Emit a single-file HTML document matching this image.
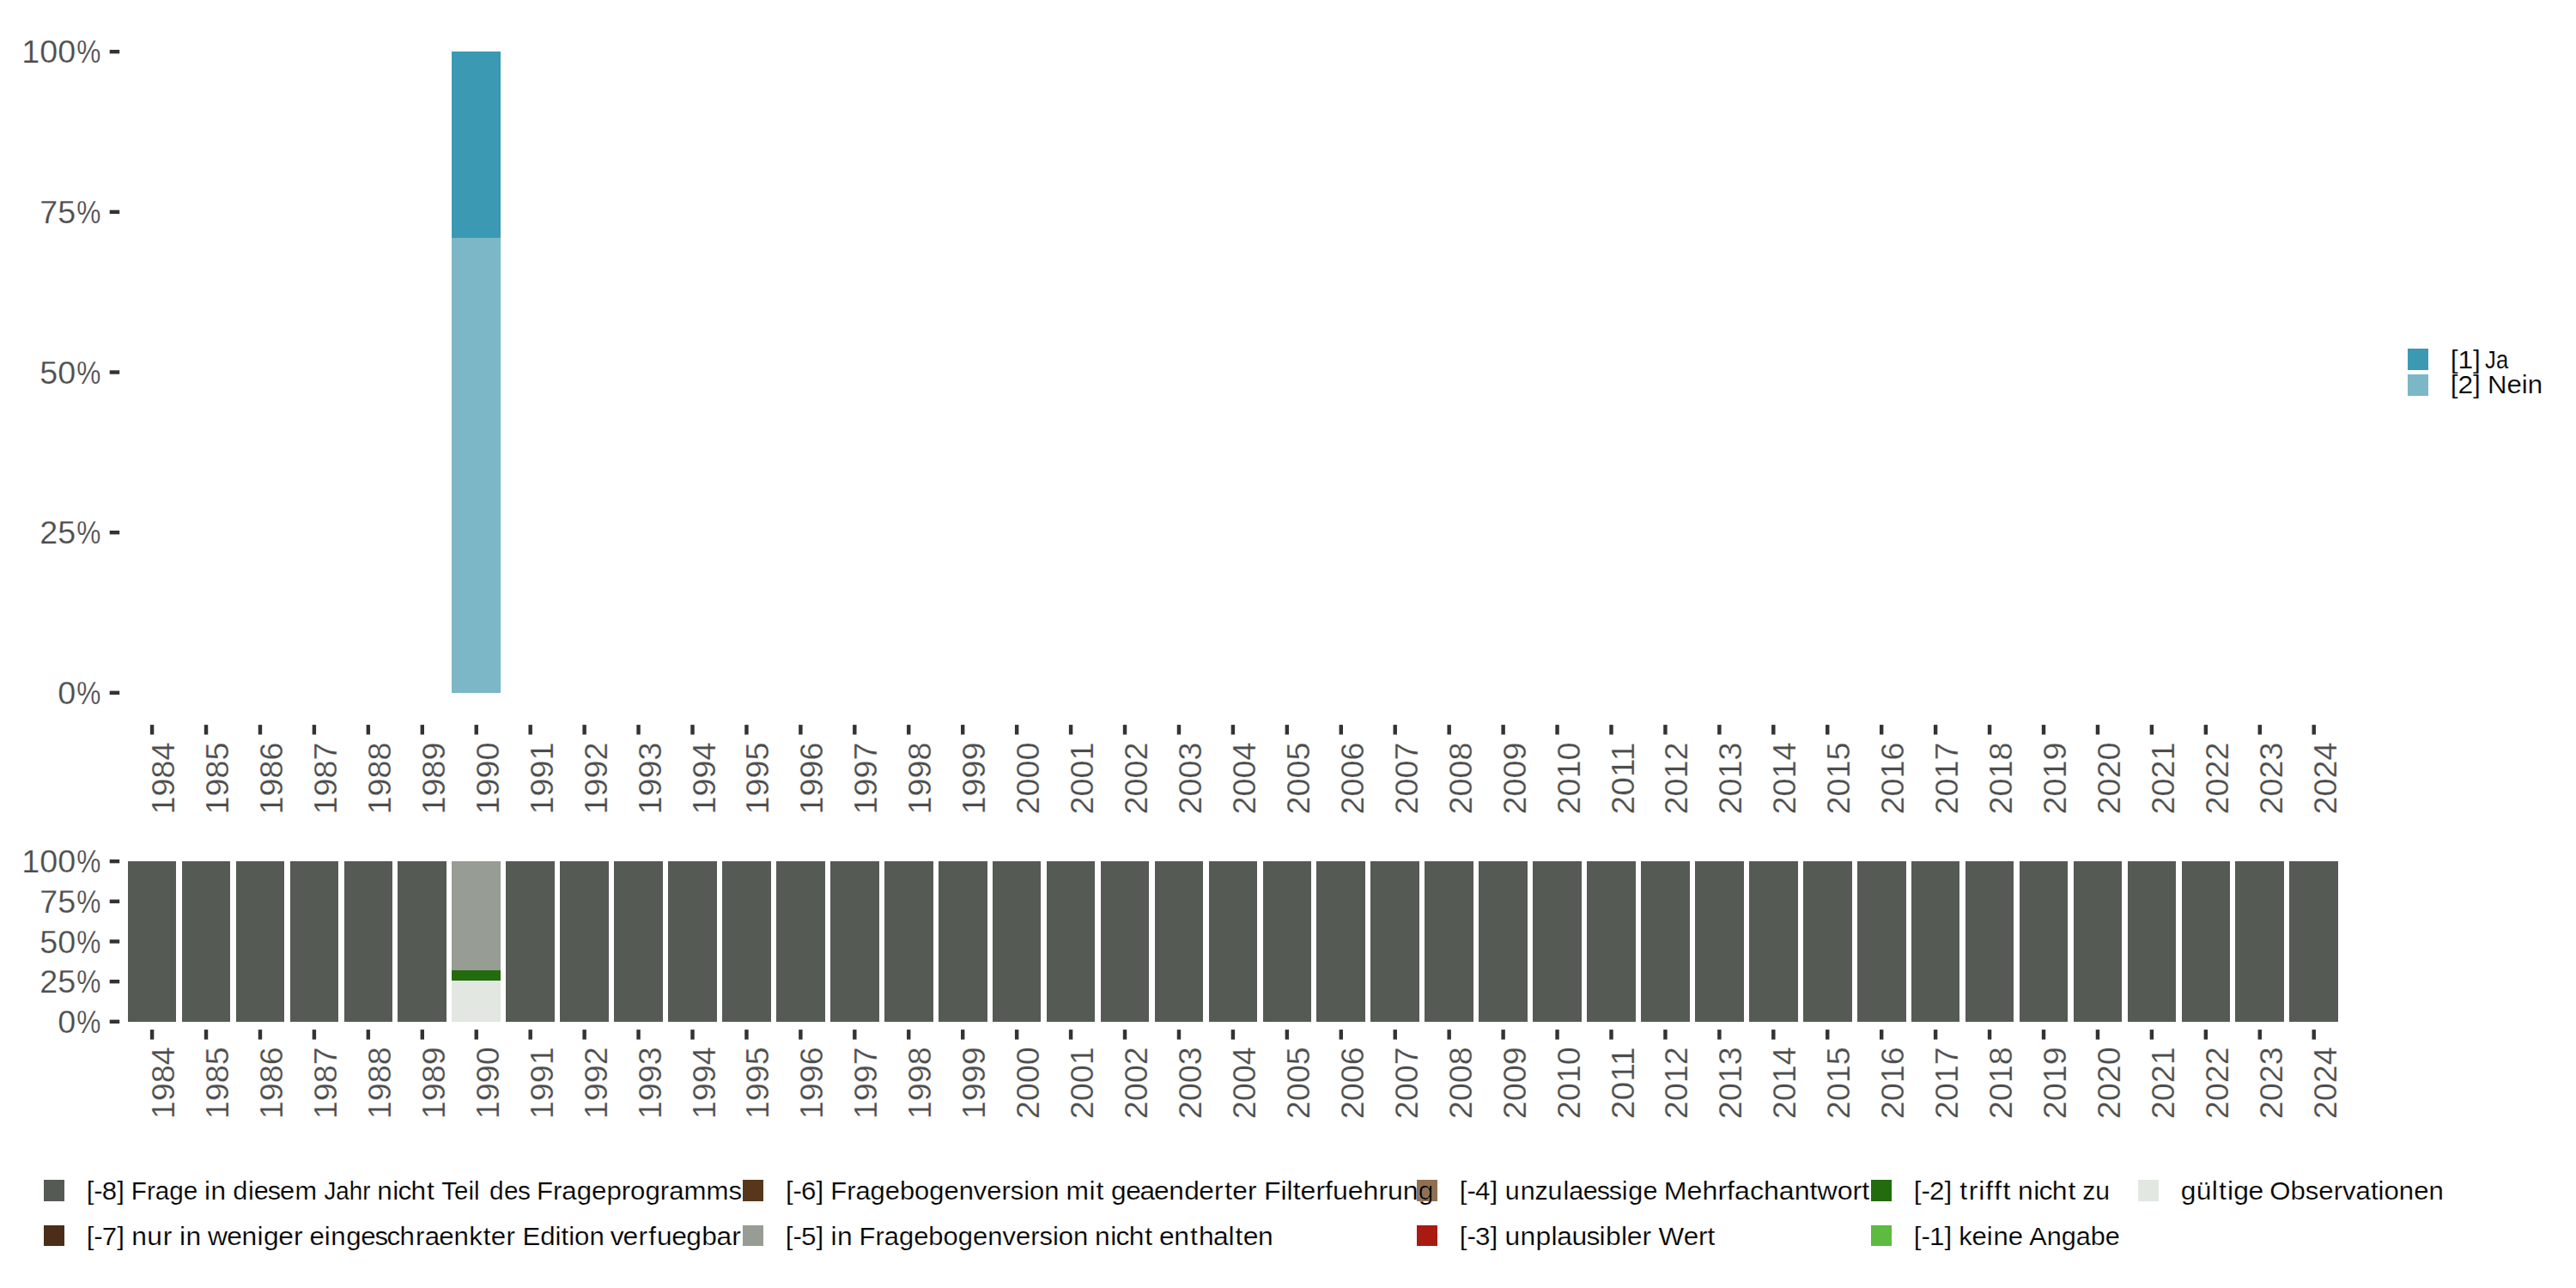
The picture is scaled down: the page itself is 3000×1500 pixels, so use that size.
<!DOCTYPE html>
<html lang="de"><head><meta charset="utf-8"><title>Plot</title>
<style>html,body{margin:0;padding:0;background:#fff}svg{display:block}text{font-family:"Liberation Sans", sans-serif}.ax{font-size:36.67px;fill:#4D4D4D;stroke:#fff;stroke-width:0.25px}.lg{font-size:29.17px;fill:#000;stroke:#fff;stroke-width:0.2px}</style>
</head><body>
<svg width="3000" height="1500" viewBox="0 0 3000 1500">
<rect width="3000" height="1500" fill="#ffffff"/>
<g shape-rendering="crispEdges">
<rect x="526" y="60" width="57" height="217" fill="#3B99B3"/>
<rect x="526" y="277" width="57" height="530" fill="#7BB7C6"/>
</g>
<line x1="127.70" x2="139.20" y1="806.80" y2="806.80" stroke="#333333" stroke-width="4.44"/>
<text class="ax" y="819.90"><tspan x="67.15" textLength="20.98" lengthAdjust="spacingAndGlyphs">0</tspan><tspan x="89.23" textLength="28.19" lengthAdjust="spacingAndGlyphs">%</tspan></text>
<line x1="127.70" x2="139.20" y1="620.15" y2="620.15" stroke="#333333" stroke-width="4.44"/>
<text class="ax" y="633.25"><tspan x="46.18" textLength="41.95" lengthAdjust="spacingAndGlyphs">25</tspan><tspan x="89.23" textLength="28.19" lengthAdjust="spacingAndGlyphs">%</tspan></text>
<line x1="127.70" x2="139.20" y1="433.50" y2="433.50" stroke="#333333" stroke-width="4.44"/>
<text class="ax" y="446.60"><tspan x="46.18" textLength="41.95" lengthAdjust="spacingAndGlyphs">50</tspan><tspan x="89.23" textLength="28.19" lengthAdjust="spacingAndGlyphs">%</tspan></text>
<line x1="127.70" x2="139.20" y1="246.85" y2="246.85" stroke="#333333" stroke-width="4.44"/>
<text class="ax" y="259.95"><tspan x="46.18" textLength="41.95" lengthAdjust="spacingAndGlyphs">75</tspan><tspan x="89.23" textLength="28.19" lengthAdjust="spacingAndGlyphs">%</tspan></text>
<line x1="127.70" x2="139.20" y1="60.20" y2="60.20" stroke="#333333" stroke-width="4.44"/>
<text class="ax" y="73.30"><tspan x="25.20" textLength="62.93" lengthAdjust="spacingAndGlyphs">100</tspan><tspan x="89.23" textLength="28.19" lengthAdjust="spacingAndGlyphs">%</tspan></text>
<line x1="177.09" x2="177.09" y1="844.10" y2="855.50" stroke="#333333" stroke-width="4.44"/>
<text class="ax" transform="translate(203.09 864.50) rotate(-90)"><tspan x="-83.90" textLength="83.90" lengthAdjust="spacingAndGlyphs">1984</tspan></text>
<line x1="240.03" x2="240.03" y1="844.10" y2="855.50" stroke="#333333" stroke-width="4.44"/>
<text class="ax" transform="translate(266.03 864.50) rotate(-90)"><tspan x="-83.90" textLength="83.90" lengthAdjust="spacingAndGlyphs">1985</tspan></text>
<line x1="302.97" x2="302.97" y1="844.10" y2="855.50" stroke="#333333" stroke-width="4.44"/>
<text class="ax" transform="translate(328.97 864.50) rotate(-90)"><tspan x="-83.90" textLength="83.90" lengthAdjust="spacingAndGlyphs">1986</tspan></text>
<line x1="365.91" x2="365.91" y1="844.10" y2="855.50" stroke="#333333" stroke-width="4.44"/>
<text class="ax" transform="translate(391.91 864.50) rotate(-90)"><tspan x="-83.90" textLength="83.90" lengthAdjust="spacingAndGlyphs">1987</tspan></text>
<line x1="428.85" x2="428.85" y1="844.10" y2="855.50" stroke="#333333" stroke-width="4.44"/>
<text class="ax" transform="translate(454.85 864.50) rotate(-90)"><tspan x="-83.90" textLength="83.90" lengthAdjust="spacingAndGlyphs">1988</tspan></text>
<line x1="491.80" x2="491.80" y1="844.10" y2="855.50" stroke="#333333" stroke-width="4.44"/>
<text class="ax" transform="translate(517.80 864.50) rotate(-90)"><tspan x="-83.90" textLength="83.90" lengthAdjust="spacingAndGlyphs">1989</tspan></text>
<line x1="554.74" x2="554.74" y1="844.10" y2="855.50" stroke="#333333" stroke-width="4.44"/>
<text class="ax" transform="translate(580.74 864.50) rotate(-90)"><tspan x="-83.90" textLength="83.90" lengthAdjust="spacingAndGlyphs">1990</tspan></text>
<line x1="617.68" x2="617.68" y1="844.10" y2="855.50" stroke="#333333" stroke-width="4.44"/>
<text class="ax" transform="translate(643.68 864.50) rotate(-90)"><tspan x="-83.90" textLength="83.90" lengthAdjust="spacingAndGlyphs">1991</tspan></text>
<line x1="680.62" x2="680.62" y1="844.10" y2="855.50" stroke="#333333" stroke-width="4.44"/>
<text class="ax" transform="translate(706.62 864.50) rotate(-90)"><tspan x="-83.90" textLength="83.90" lengthAdjust="spacingAndGlyphs">1992</tspan></text>
<line x1="743.56" x2="743.56" y1="844.10" y2="855.50" stroke="#333333" stroke-width="4.44"/>
<text class="ax" transform="translate(769.56 864.50) rotate(-90)"><tspan x="-83.90" textLength="83.90" lengthAdjust="spacingAndGlyphs">1993</tspan></text>
<line x1="806.50" x2="806.50" y1="844.10" y2="855.50" stroke="#333333" stroke-width="4.44"/>
<text class="ax" transform="translate(832.50 864.50) rotate(-90)"><tspan x="-83.90" textLength="83.90" lengthAdjust="spacingAndGlyphs">1994</tspan></text>
<line x1="869.44" x2="869.44" y1="844.10" y2="855.50" stroke="#333333" stroke-width="4.44"/>
<text class="ax" transform="translate(895.44 864.50) rotate(-90)"><tspan x="-83.90" textLength="83.90" lengthAdjust="spacingAndGlyphs">1995</tspan></text>
<line x1="932.38" x2="932.38" y1="844.10" y2="855.50" stroke="#333333" stroke-width="4.44"/>
<text class="ax" transform="translate(958.38 864.50) rotate(-90)"><tspan x="-83.90" textLength="83.90" lengthAdjust="spacingAndGlyphs">1996</tspan></text>
<line x1="995.32" x2="995.32" y1="844.10" y2="855.50" stroke="#333333" stroke-width="4.44"/>
<text class="ax" transform="translate(1021.32 864.50) rotate(-90)"><tspan x="-83.90" textLength="83.90" lengthAdjust="spacingAndGlyphs">1997</tspan></text>
<line x1="1058.26" x2="1058.26" y1="844.10" y2="855.50" stroke="#333333" stroke-width="4.44"/>
<text class="ax" transform="translate(1084.26 864.50) rotate(-90)"><tspan x="-83.90" textLength="83.90" lengthAdjust="spacingAndGlyphs">1998</tspan></text>
<line x1="1121.20" x2="1121.20" y1="844.10" y2="855.50" stroke="#333333" stroke-width="4.44"/>
<text class="ax" transform="translate(1147.20 864.50) rotate(-90)"><tspan x="-83.90" textLength="83.90" lengthAdjust="spacingAndGlyphs">1999</tspan></text>
<line x1="1184.15" x2="1184.15" y1="844.10" y2="855.50" stroke="#333333" stroke-width="4.44"/>
<text class="ax" transform="translate(1210.15 864.50) rotate(-90)"><tspan x="-83.90" textLength="83.90" lengthAdjust="spacingAndGlyphs">2000</tspan></text>
<line x1="1247.09" x2="1247.09" y1="844.10" y2="855.50" stroke="#333333" stroke-width="4.44"/>
<text class="ax" transform="translate(1273.09 864.50) rotate(-90)"><tspan x="-83.90" textLength="83.90" lengthAdjust="spacingAndGlyphs">2001</tspan></text>
<line x1="1310.03" x2="1310.03" y1="844.10" y2="855.50" stroke="#333333" stroke-width="4.44"/>
<text class="ax" transform="translate(1336.03 864.50) rotate(-90)"><tspan x="-83.90" textLength="83.90" lengthAdjust="spacingAndGlyphs">2002</tspan></text>
<line x1="1372.97" x2="1372.97" y1="844.10" y2="855.50" stroke="#333333" stroke-width="4.44"/>
<text class="ax" transform="translate(1398.97 864.50) rotate(-90)"><tspan x="-83.90" textLength="83.90" lengthAdjust="spacingAndGlyphs">2003</tspan></text>
<line x1="1435.91" x2="1435.91" y1="844.10" y2="855.50" stroke="#333333" stroke-width="4.44"/>
<text class="ax" transform="translate(1461.91 864.50) rotate(-90)"><tspan x="-83.90" textLength="83.90" lengthAdjust="spacingAndGlyphs">2004</tspan></text>
<line x1="1498.85" x2="1498.85" y1="844.10" y2="855.50" stroke="#333333" stroke-width="4.44"/>
<text class="ax" transform="translate(1524.85 864.50) rotate(-90)"><tspan x="-83.90" textLength="83.90" lengthAdjust="spacingAndGlyphs">2005</tspan></text>
<line x1="1561.79" x2="1561.79" y1="844.10" y2="855.50" stroke="#333333" stroke-width="4.44"/>
<text class="ax" transform="translate(1587.79 864.50) rotate(-90)"><tspan x="-83.90" textLength="83.90" lengthAdjust="spacingAndGlyphs">2006</tspan></text>
<line x1="1624.73" x2="1624.73" y1="844.10" y2="855.50" stroke="#333333" stroke-width="4.44"/>
<text class="ax" transform="translate(1650.73 864.50) rotate(-90)"><tspan x="-83.90" textLength="83.90" lengthAdjust="spacingAndGlyphs">2007</tspan></text>
<line x1="1687.67" x2="1687.67" y1="844.10" y2="855.50" stroke="#333333" stroke-width="4.44"/>
<text class="ax" transform="translate(1713.67 864.50) rotate(-90)"><tspan x="-83.90" textLength="83.90" lengthAdjust="spacingAndGlyphs">2008</tspan></text>
<line x1="1750.62" x2="1750.62" y1="844.10" y2="855.50" stroke="#333333" stroke-width="4.44"/>
<text class="ax" transform="translate(1776.62 864.50) rotate(-90)"><tspan x="-83.90" textLength="83.90" lengthAdjust="spacingAndGlyphs">2009</tspan></text>
<line x1="1813.56" x2="1813.56" y1="844.10" y2="855.50" stroke="#333333" stroke-width="4.44"/>
<text class="ax" transform="translate(1839.56 864.50) rotate(-90)"><tspan x="-83.90" textLength="83.90" lengthAdjust="spacingAndGlyphs">2010</tspan></text>
<line x1="1876.50" x2="1876.50" y1="844.10" y2="855.50" stroke="#333333" stroke-width="4.44"/>
<text class="ax" transform="translate(1902.50 864.50) rotate(-90)"><tspan x="-83.90" textLength="83.90" lengthAdjust="spacingAndGlyphs">2011</tspan></text>
<line x1="1939.44" x2="1939.44" y1="844.10" y2="855.50" stroke="#333333" stroke-width="4.44"/>
<text class="ax" transform="translate(1965.44 864.50) rotate(-90)"><tspan x="-83.90" textLength="83.90" lengthAdjust="spacingAndGlyphs">2012</tspan></text>
<line x1="2002.38" x2="2002.38" y1="844.10" y2="855.50" stroke="#333333" stroke-width="4.44"/>
<text class="ax" transform="translate(2028.38 864.50) rotate(-90)"><tspan x="-83.90" textLength="83.90" lengthAdjust="spacingAndGlyphs">2013</tspan></text>
<line x1="2065.32" x2="2065.32" y1="844.10" y2="855.50" stroke="#333333" stroke-width="4.44"/>
<text class="ax" transform="translate(2091.32 864.50) rotate(-90)"><tspan x="-83.90" textLength="83.90" lengthAdjust="spacingAndGlyphs">2014</tspan></text>
<line x1="2128.26" x2="2128.26" y1="844.10" y2="855.50" stroke="#333333" stroke-width="4.44"/>
<text class="ax" transform="translate(2154.26 864.50) rotate(-90)"><tspan x="-83.90" textLength="83.90" lengthAdjust="spacingAndGlyphs">2015</tspan></text>
<line x1="2191.20" x2="2191.20" y1="844.10" y2="855.50" stroke="#333333" stroke-width="4.44"/>
<text class="ax" transform="translate(2217.20 864.50) rotate(-90)"><tspan x="-83.90" textLength="83.90" lengthAdjust="spacingAndGlyphs">2016</tspan></text>
<line x1="2254.14" x2="2254.14" y1="844.10" y2="855.50" stroke="#333333" stroke-width="4.44"/>
<text class="ax" transform="translate(2280.14 864.50) rotate(-90)"><tspan x="-83.90" textLength="83.90" lengthAdjust="spacingAndGlyphs">2017</tspan></text>
<line x1="2317.08" x2="2317.08" y1="844.10" y2="855.50" stroke="#333333" stroke-width="4.44"/>
<text class="ax" transform="translate(2343.08 864.50) rotate(-90)"><tspan x="-83.90" textLength="83.90" lengthAdjust="spacingAndGlyphs">2018</tspan></text>
<line x1="2380.03" x2="2380.03" y1="844.10" y2="855.50" stroke="#333333" stroke-width="4.44"/>
<text class="ax" transform="translate(2406.03 864.50) rotate(-90)"><tspan x="-83.90" textLength="83.90" lengthAdjust="spacingAndGlyphs">2019</tspan></text>
<line x1="2442.97" x2="2442.97" y1="844.10" y2="855.50" stroke="#333333" stroke-width="4.44"/>
<text class="ax" transform="translate(2468.97 864.50) rotate(-90)"><tspan x="-83.90" textLength="83.90" lengthAdjust="spacingAndGlyphs">2020</tspan></text>
<line x1="2505.91" x2="2505.91" y1="844.10" y2="855.50" stroke="#333333" stroke-width="4.44"/>
<text class="ax" transform="translate(2531.91 864.50) rotate(-90)"><tspan x="-83.90" textLength="83.90" lengthAdjust="spacingAndGlyphs">2021</tspan></text>
<line x1="2568.85" x2="2568.85" y1="844.10" y2="855.50" stroke="#333333" stroke-width="4.44"/>
<text class="ax" transform="translate(2594.85 864.50) rotate(-90)"><tspan x="-83.90" textLength="83.90" lengthAdjust="spacingAndGlyphs">2022</tspan></text>
<line x1="2631.79" x2="2631.79" y1="844.10" y2="855.50" stroke="#333333" stroke-width="4.44"/>
<text class="ax" transform="translate(2657.79 864.50) rotate(-90)"><tspan x="-83.90" textLength="83.90" lengthAdjust="spacingAndGlyphs">2023</tspan></text>
<line x1="2694.73" x2="2694.73" y1="844.10" y2="855.50" stroke="#333333" stroke-width="4.44"/>
<text class="ax" transform="translate(2720.73 864.50) rotate(-90)"><tspan x="-83.90" textLength="83.90" lengthAdjust="spacingAndGlyphs">2024</tspan></text>
<g shape-rendering="crispEdges">
<rect x="149" y="1003" width="56" height="187" fill="#555B54"/>
<rect x="212" y="1003" width="56" height="187" fill="#555B54"/>
<rect x="275" y="1003" width="56" height="187" fill="#555B54"/>
<rect x="338" y="1003" width="56" height="187" fill="#555B54"/>
<rect x="401" y="1003" width="56" height="187" fill="#555B54"/>
<rect x="463" y="1003" width="57" height="187" fill="#555B54"/>
<rect x="526" y="1003" width="57" height="127" fill="#979C95"/>
<rect x="526" y="1130" width="57" height="12" fill="#226C0E"/>
<rect x="526" y="1142" width="57" height="48" fill="#E2E7E2"/>
<rect x="589" y="1003" width="57" height="187" fill="#555B54"/>
<rect x="652" y="1003" width="57" height="187" fill="#555B54"/>
<rect x="715" y="1003" width="57" height="187" fill="#555B54"/>
<rect x="778" y="1003" width="57" height="187" fill="#555B54"/>
<rect x="841" y="1003" width="57" height="187" fill="#555B54"/>
<rect x="904" y="1003" width="57" height="187" fill="#555B54"/>
<rect x="967" y="1003" width="57" height="187" fill="#555B54"/>
<rect x="1030" y="1003" width="57" height="187" fill="#555B54"/>
<rect x="1093" y="1003" width="57" height="187" fill="#555B54"/>
<rect x="1156" y="1003" width="56" height="187" fill="#555B54"/>
<rect x="1219" y="1003" width="56" height="187" fill="#555B54"/>
<rect x="1282" y="1003" width="56" height="187" fill="#555B54"/>
<rect x="1345" y="1003" width="56" height="187" fill="#555B54"/>
<rect x="1408" y="1003" width="56" height="187" fill="#555B54"/>
<rect x="1471" y="1003" width="56" height="187" fill="#555B54"/>
<rect x="1533" y="1003" width="57" height="187" fill="#555B54"/>
<rect x="1596" y="1003" width="57" height="187" fill="#555B54"/>
<rect x="1659" y="1003" width="57" height="187" fill="#555B54"/>
<rect x="1722" y="1003" width="57" height="187" fill="#555B54"/>
<rect x="1785" y="1003" width="57" height="187" fill="#555B54"/>
<rect x="1848" y="1003" width="57" height="187" fill="#555B54"/>
<rect x="1911" y="1003" width="57" height="187" fill="#555B54"/>
<rect x="1974" y="1003" width="57" height="187" fill="#555B54"/>
<rect x="2037" y="1003" width="57" height="187" fill="#555B54"/>
<rect x="2100" y="1003" width="57" height="187" fill="#555B54"/>
<rect x="2163" y="1003" width="57" height="187" fill="#555B54"/>
<rect x="2226" y="1003" width="56" height="187" fill="#555B54"/>
<rect x="2289" y="1003" width="56" height="187" fill="#555B54"/>
<rect x="2352" y="1003" width="56" height="187" fill="#555B54"/>
<rect x="2415" y="1003" width="56" height="187" fill="#555B54"/>
<rect x="2478" y="1003" width="56" height="187" fill="#555B54"/>
<rect x="2541" y="1003" width="56" height="187" fill="#555B54"/>
<rect x="2603" y="1003" width="57" height="187" fill="#555B54"/>
<rect x="2666" y="1003" width="57" height="187" fill="#555B54"/>
</g>
<line x1="127.70" x2="139.20" y1="1189.80" y2="1189.80" stroke="#333333" stroke-width="4.44"/>
<text class="ax" y="1202.90"><tspan x="67.15" textLength="20.98" lengthAdjust="spacingAndGlyphs">0</tspan><tspan x="89.23" textLength="28.19" lengthAdjust="spacingAndGlyphs">%</tspan></text>
<line x1="127.70" x2="139.20" y1="1143.12" y2="1143.12" stroke="#333333" stroke-width="4.44"/>
<text class="ax" y="1156.22"><tspan x="46.18" textLength="41.95" lengthAdjust="spacingAndGlyphs">25</tspan><tspan x="89.23" textLength="28.19" lengthAdjust="spacingAndGlyphs">%</tspan></text>
<line x1="127.70" x2="139.20" y1="1096.45" y2="1096.45" stroke="#333333" stroke-width="4.44"/>
<text class="ax" y="1109.55"><tspan x="46.18" textLength="41.95" lengthAdjust="spacingAndGlyphs">50</tspan><tspan x="89.23" textLength="28.19" lengthAdjust="spacingAndGlyphs">%</tspan></text>
<line x1="127.70" x2="139.20" y1="1049.78" y2="1049.78" stroke="#333333" stroke-width="4.44"/>
<text class="ax" y="1062.88"><tspan x="46.18" textLength="41.95" lengthAdjust="spacingAndGlyphs">75</tspan><tspan x="89.23" textLength="28.19" lengthAdjust="spacingAndGlyphs">%</tspan></text>
<line x1="127.70" x2="139.20" y1="1003.10" y2="1003.10" stroke="#333333" stroke-width="4.44"/>
<text class="ax" y="1016.20"><tspan x="25.20" textLength="62.93" lengthAdjust="spacingAndGlyphs">100</tspan><tspan x="89.23" textLength="28.19" lengthAdjust="spacingAndGlyphs">%</tspan></text>
<line x1="177.09" x2="177.09" y1="1199.10" y2="1210.60" stroke="#333333" stroke-width="4.44"/>
<text class="ax" transform="translate(203.09 1219.30) rotate(-90)"><tspan x="-83.90" textLength="83.90" lengthAdjust="spacingAndGlyphs">1984</tspan></text>
<line x1="240.03" x2="240.03" y1="1199.10" y2="1210.60" stroke="#333333" stroke-width="4.44"/>
<text class="ax" transform="translate(266.03 1219.30) rotate(-90)"><tspan x="-83.90" textLength="83.90" lengthAdjust="spacingAndGlyphs">1985</tspan></text>
<line x1="302.97" x2="302.97" y1="1199.10" y2="1210.60" stroke="#333333" stroke-width="4.44"/>
<text class="ax" transform="translate(328.97 1219.30) rotate(-90)"><tspan x="-83.90" textLength="83.90" lengthAdjust="spacingAndGlyphs">1986</tspan></text>
<line x1="365.91" x2="365.91" y1="1199.10" y2="1210.60" stroke="#333333" stroke-width="4.44"/>
<text class="ax" transform="translate(391.91 1219.30) rotate(-90)"><tspan x="-83.90" textLength="83.90" lengthAdjust="spacingAndGlyphs">1987</tspan></text>
<line x1="428.85" x2="428.85" y1="1199.10" y2="1210.60" stroke="#333333" stroke-width="4.44"/>
<text class="ax" transform="translate(454.85 1219.30) rotate(-90)"><tspan x="-83.90" textLength="83.90" lengthAdjust="spacingAndGlyphs">1988</tspan></text>
<line x1="491.80" x2="491.80" y1="1199.10" y2="1210.60" stroke="#333333" stroke-width="4.44"/>
<text class="ax" transform="translate(517.80 1219.30) rotate(-90)"><tspan x="-83.90" textLength="83.90" lengthAdjust="spacingAndGlyphs">1989</tspan></text>
<line x1="554.74" x2="554.74" y1="1199.10" y2="1210.60" stroke="#333333" stroke-width="4.44"/>
<text class="ax" transform="translate(580.74 1219.30) rotate(-90)"><tspan x="-83.90" textLength="83.90" lengthAdjust="spacingAndGlyphs">1990</tspan></text>
<line x1="617.68" x2="617.68" y1="1199.10" y2="1210.60" stroke="#333333" stroke-width="4.44"/>
<text class="ax" transform="translate(643.68 1219.30) rotate(-90)"><tspan x="-83.90" textLength="83.90" lengthAdjust="spacingAndGlyphs">1991</tspan></text>
<line x1="680.62" x2="680.62" y1="1199.10" y2="1210.60" stroke="#333333" stroke-width="4.44"/>
<text class="ax" transform="translate(706.62 1219.30) rotate(-90)"><tspan x="-83.90" textLength="83.90" lengthAdjust="spacingAndGlyphs">1992</tspan></text>
<line x1="743.56" x2="743.56" y1="1199.10" y2="1210.60" stroke="#333333" stroke-width="4.44"/>
<text class="ax" transform="translate(769.56 1219.30) rotate(-90)"><tspan x="-83.90" textLength="83.90" lengthAdjust="spacingAndGlyphs">1993</tspan></text>
<line x1="806.50" x2="806.50" y1="1199.10" y2="1210.60" stroke="#333333" stroke-width="4.44"/>
<text class="ax" transform="translate(832.50 1219.30) rotate(-90)"><tspan x="-83.90" textLength="83.90" lengthAdjust="spacingAndGlyphs">1994</tspan></text>
<line x1="869.44" x2="869.44" y1="1199.10" y2="1210.60" stroke="#333333" stroke-width="4.44"/>
<text class="ax" transform="translate(895.44 1219.30) rotate(-90)"><tspan x="-83.90" textLength="83.90" lengthAdjust="spacingAndGlyphs">1995</tspan></text>
<line x1="932.38" x2="932.38" y1="1199.10" y2="1210.60" stroke="#333333" stroke-width="4.44"/>
<text class="ax" transform="translate(958.38 1219.30) rotate(-90)"><tspan x="-83.90" textLength="83.90" lengthAdjust="spacingAndGlyphs">1996</tspan></text>
<line x1="995.32" x2="995.32" y1="1199.10" y2="1210.60" stroke="#333333" stroke-width="4.44"/>
<text class="ax" transform="translate(1021.32 1219.30) rotate(-90)"><tspan x="-83.90" textLength="83.90" lengthAdjust="spacingAndGlyphs">1997</tspan></text>
<line x1="1058.26" x2="1058.26" y1="1199.10" y2="1210.60" stroke="#333333" stroke-width="4.44"/>
<text class="ax" transform="translate(1084.26 1219.30) rotate(-90)"><tspan x="-83.90" textLength="83.90" lengthAdjust="spacingAndGlyphs">1998</tspan></text>
<line x1="1121.20" x2="1121.20" y1="1199.10" y2="1210.60" stroke="#333333" stroke-width="4.44"/>
<text class="ax" transform="translate(1147.20 1219.30) rotate(-90)"><tspan x="-83.90" textLength="83.90" lengthAdjust="spacingAndGlyphs">1999</tspan></text>
<line x1="1184.15" x2="1184.15" y1="1199.10" y2="1210.60" stroke="#333333" stroke-width="4.44"/>
<text class="ax" transform="translate(1210.15 1219.30) rotate(-90)"><tspan x="-83.90" textLength="83.90" lengthAdjust="spacingAndGlyphs">2000</tspan></text>
<line x1="1247.09" x2="1247.09" y1="1199.10" y2="1210.60" stroke="#333333" stroke-width="4.44"/>
<text class="ax" transform="translate(1273.09 1219.30) rotate(-90)"><tspan x="-83.90" textLength="83.90" lengthAdjust="spacingAndGlyphs">2001</tspan></text>
<line x1="1310.03" x2="1310.03" y1="1199.10" y2="1210.60" stroke="#333333" stroke-width="4.44"/>
<text class="ax" transform="translate(1336.03 1219.30) rotate(-90)"><tspan x="-83.90" textLength="83.90" lengthAdjust="spacingAndGlyphs">2002</tspan></text>
<line x1="1372.97" x2="1372.97" y1="1199.10" y2="1210.60" stroke="#333333" stroke-width="4.44"/>
<text class="ax" transform="translate(1398.97 1219.30) rotate(-90)"><tspan x="-83.90" textLength="83.90" lengthAdjust="spacingAndGlyphs">2003</tspan></text>
<line x1="1435.91" x2="1435.91" y1="1199.10" y2="1210.60" stroke="#333333" stroke-width="4.44"/>
<text class="ax" transform="translate(1461.91 1219.30) rotate(-90)"><tspan x="-83.90" textLength="83.90" lengthAdjust="spacingAndGlyphs">2004</tspan></text>
<line x1="1498.85" x2="1498.85" y1="1199.10" y2="1210.60" stroke="#333333" stroke-width="4.44"/>
<text class="ax" transform="translate(1524.85 1219.30) rotate(-90)"><tspan x="-83.90" textLength="83.90" lengthAdjust="spacingAndGlyphs">2005</tspan></text>
<line x1="1561.79" x2="1561.79" y1="1199.10" y2="1210.60" stroke="#333333" stroke-width="4.44"/>
<text class="ax" transform="translate(1587.79 1219.30) rotate(-90)"><tspan x="-83.90" textLength="83.90" lengthAdjust="spacingAndGlyphs">2006</tspan></text>
<line x1="1624.73" x2="1624.73" y1="1199.10" y2="1210.60" stroke="#333333" stroke-width="4.44"/>
<text class="ax" transform="translate(1650.73 1219.30) rotate(-90)"><tspan x="-83.90" textLength="83.90" lengthAdjust="spacingAndGlyphs">2007</tspan></text>
<line x1="1687.67" x2="1687.67" y1="1199.10" y2="1210.60" stroke="#333333" stroke-width="4.44"/>
<text class="ax" transform="translate(1713.67 1219.30) rotate(-90)"><tspan x="-83.90" textLength="83.90" lengthAdjust="spacingAndGlyphs">2008</tspan></text>
<line x1="1750.62" x2="1750.62" y1="1199.10" y2="1210.60" stroke="#333333" stroke-width="4.44"/>
<text class="ax" transform="translate(1776.62 1219.30) rotate(-90)"><tspan x="-83.90" textLength="83.90" lengthAdjust="spacingAndGlyphs">2009</tspan></text>
<line x1="1813.56" x2="1813.56" y1="1199.10" y2="1210.60" stroke="#333333" stroke-width="4.44"/>
<text class="ax" transform="translate(1839.56 1219.30) rotate(-90)"><tspan x="-83.90" textLength="83.90" lengthAdjust="spacingAndGlyphs">2010</tspan></text>
<line x1="1876.50" x2="1876.50" y1="1199.10" y2="1210.60" stroke="#333333" stroke-width="4.44"/>
<text class="ax" transform="translate(1902.50 1219.30) rotate(-90)"><tspan x="-83.90" textLength="83.90" lengthAdjust="spacingAndGlyphs">2011</tspan></text>
<line x1="1939.44" x2="1939.44" y1="1199.10" y2="1210.60" stroke="#333333" stroke-width="4.44"/>
<text class="ax" transform="translate(1965.44 1219.30) rotate(-90)"><tspan x="-83.90" textLength="83.90" lengthAdjust="spacingAndGlyphs">2012</tspan></text>
<line x1="2002.38" x2="2002.38" y1="1199.10" y2="1210.60" stroke="#333333" stroke-width="4.44"/>
<text class="ax" transform="translate(2028.38 1219.30) rotate(-90)"><tspan x="-83.90" textLength="83.90" lengthAdjust="spacingAndGlyphs">2013</tspan></text>
<line x1="2065.32" x2="2065.32" y1="1199.10" y2="1210.60" stroke="#333333" stroke-width="4.44"/>
<text class="ax" transform="translate(2091.32 1219.30) rotate(-90)"><tspan x="-83.90" textLength="83.90" lengthAdjust="spacingAndGlyphs">2014</tspan></text>
<line x1="2128.26" x2="2128.26" y1="1199.10" y2="1210.60" stroke="#333333" stroke-width="4.44"/>
<text class="ax" transform="translate(2154.26 1219.30) rotate(-90)"><tspan x="-83.90" textLength="83.90" lengthAdjust="spacingAndGlyphs">2015</tspan></text>
<line x1="2191.20" x2="2191.20" y1="1199.10" y2="1210.60" stroke="#333333" stroke-width="4.44"/>
<text class="ax" transform="translate(2217.20 1219.30) rotate(-90)"><tspan x="-83.90" textLength="83.90" lengthAdjust="spacingAndGlyphs">2016</tspan></text>
<line x1="2254.14" x2="2254.14" y1="1199.10" y2="1210.60" stroke="#333333" stroke-width="4.44"/>
<text class="ax" transform="translate(2280.14 1219.30) rotate(-90)"><tspan x="-83.90" textLength="83.90" lengthAdjust="spacingAndGlyphs">2017</tspan></text>
<line x1="2317.08" x2="2317.08" y1="1199.10" y2="1210.60" stroke="#333333" stroke-width="4.44"/>
<text class="ax" transform="translate(2343.08 1219.30) rotate(-90)"><tspan x="-83.90" textLength="83.90" lengthAdjust="spacingAndGlyphs">2018</tspan></text>
<line x1="2380.03" x2="2380.03" y1="1199.10" y2="1210.60" stroke="#333333" stroke-width="4.44"/>
<text class="ax" transform="translate(2406.03 1219.30) rotate(-90)"><tspan x="-83.90" textLength="83.90" lengthAdjust="spacingAndGlyphs">2019</tspan></text>
<line x1="2442.97" x2="2442.97" y1="1199.10" y2="1210.60" stroke="#333333" stroke-width="4.44"/>
<text class="ax" transform="translate(2468.97 1219.30) rotate(-90)"><tspan x="-83.90" textLength="83.90" lengthAdjust="spacingAndGlyphs">2020</tspan></text>
<line x1="2505.91" x2="2505.91" y1="1199.10" y2="1210.60" stroke="#333333" stroke-width="4.44"/>
<text class="ax" transform="translate(2531.91 1219.30) rotate(-90)"><tspan x="-83.90" textLength="83.90" lengthAdjust="spacingAndGlyphs">2021</tspan></text>
<line x1="2568.85" x2="2568.85" y1="1199.10" y2="1210.60" stroke="#333333" stroke-width="4.44"/>
<text class="ax" transform="translate(2594.85 1219.30) rotate(-90)"><tspan x="-83.90" textLength="83.90" lengthAdjust="spacingAndGlyphs">2022</tspan></text>
<line x1="2631.79" x2="2631.79" y1="1199.10" y2="1210.60" stroke="#333333" stroke-width="4.44"/>
<text class="ax" transform="translate(2657.79 1219.30) rotate(-90)"><tspan x="-83.90" textLength="83.90" lengthAdjust="spacingAndGlyphs">2023</tspan></text>
<line x1="2694.73" x2="2694.73" y1="1199.10" y2="1210.60" stroke="#333333" stroke-width="4.44"/>
<text class="ax" transform="translate(2720.73 1219.30) rotate(-90)"><tspan x="-83.90" textLength="83.90" lengthAdjust="spacingAndGlyphs">2024</tspan></text>
<rect x="2804" y="406" width="24" height="25" fill="#3B99B3"/>
<rect x="2804" y="436" width="24" height="25" fill="#7BB7C6"/>
<text class="lg" transform="translate(2853.42 428.50) scale(1.0900 1)" x="0.35 8.35 24.46 32.34">[1] </text><text class="lg" transform="translate(2894.11 428.50) scale(0.8800 1)">Ja</text>
<text class="lg" transform="translate(2853.42 458.40) scale(1.0900 1)" x="0.35 8.35 24.46 32.34">[2] </text><text class="lg" transform="translate(2896.88 458.40) scale(1.0700 1)">Nein</text>
<rect x="51" y="1374" width="24" height="25" fill="#555B54"/>
<rect x="51" y="1427" width="24" height="24" fill="#4A2E19"/>
<rect x="865" y="1374" width="24" height="25" fill="#583619"/>
<rect x="865" y="1427" width="24" height="24" fill="#979C95"/>
<rect x="1650" y="1374" width="24" height="25" fill="#92704F"/>
<rect x="1650" y="1427" width="24" height="24" fill="#A81A12"/>
<rect x="2179" y="1374" width="24" height="25" fill="#226C0E"/>
<rect x="2179" y="1427" width="24" height="24" fill="#5CBB40"/>
<rect x="2490" y="1374" width="24" height="25" fill="#E2E7E2"/>
<text class="lg" transform="translate(100.22 1397.20) scale(1.0681 1)" x="0.41 8.45 17.34 33.63 41.63">[-8] </text><text class="lg" transform="translate(152.78 1397.20) scale(1.0173 1)">Frage </text><text class="lg" transform="translate(237.83 1397.20) scale(1.0839 1)" x="0.21 7.06 22.87">in </text><text class="lg" transform="translate(270.79 1397.20) scale(1.0537 1)" x="0.36 17.24 23.69 38.86 52.40 69.00 93.54">diesem </text><text class="lg" transform="translate(377.39 1397.20) scale(0.9535 1)">Jahr </text><text class="lg" transform="translate(439.03 1397.20) scale(1.0839 1)" x="0.16 16.75 22.57 36.45 53.60 61.91">nicht </text><text class="lg" transform="translate(514.31 1397.20) scale(1.0099 1)">Teil </text><text class="lg" transform="translate(569.31 1397.20) scale(1.0228 1)" x="0.61 17.33 32.94 46.65">des </text><text class="lg" transform="translate(624.94 1397.20) scale(1.0690 1)">Frageprogramms</text>
<text class="lg" transform="translate(100.22 1450.30) scale(1.0742 1)" x="0.41 8.45 17.34 33.63 41.63">[-7] </text><text class="lg" transform="translate(153.08 1450.30) scale(1.0901 1)" x="0.16 16.70 33.75 43.55">nur </text><text class="lg" transform="translate(208.78 1450.30) scale(1.0901 1)" x="0.21 7.06 22.87">in </text><text class="lg" transform="translate(241.92 1450.30) scale(1.0901 1)" x="-0.01 20.47 36.29 52.88 59.69 75.47 91.79 101.60">weniger </text><text class="lg" transform="translate(360.89 1450.30) scale(1.0724 1)" x="-0.44 15.62 22.66 39.43 55.47 70.47 83.52 97.64 114.91 124.91 140.21 156.29 172.78 188.19 196.72 213.26 223.22">eingeschraenkter </text><text class="lg" transform="translate(608.40 1450.30) scale(1.0701 1)">Edition </text><text class="lg" transform="translate(711.41 1450.30) scale(1.0901 1)" x="-0.50 13.03 29.36 40.29 49.11 64.92 80.70 97.16 112.89 129.18">verfuegbar</text>
<text class="lg" transform="translate(914.49 1397.20) scale(1.0728 1)" x="0.41 8.45 17.34 33.63 41.63">[-6] </text><text class="lg" transform="translate(967.28 1397.20) scale(1.0590 1)">Fragebogenversion </text><text class="lg" transform="translate(1240.99 1397.20) scale(1.0887 1)" x="0.36 25.24 32.70 41.01">mit </text><text class="lg" transform="translate(1293.84 1397.20) scale(1.0841 1)" x="0.16 16.00 31.12 46.24 62.12 78.69 94.53 110.92 122.12 130.50 146.88 156.72">geaenderter </text><text class="lg" transform="translate(1471.92 1397.20) scale(1.0979 1)">Filterfuehrung</text>
<text class="lg" transform="translate(914.39 1450.30) scale(1.0755 1)" x="0.41 8.45 17.34 33.63 41.63">[-5] </text><text class="lg" transform="translate(967.31 1450.30) scale(1.0914 1)" x="0.21 7.06 22.87">in </text><text class="lg" transform="translate(1000.49 1450.30) scale(1.0616 1)">Fragebogenversion </text><text class="lg" transform="translate(1274.88 1450.30) scale(1.0914 1)" x="0.16 16.75 22.57 36.45 53.60 61.91">nicht </text><text class="lg" transform="translate(1350.67 1450.30) scale(1.0914 1)" x="-0.56 15.25 32.41 41.45 57.23 73.06 80.52 88.85 104.66">enthalten</text>
<text class="lg" transform="translate(1699.38 1397.20) scale(1.0742 1)" x="0.41 8.45 17.34 33.63 41.63">[-4] </text><text class="lg" transform="translate(1752.24 1397.20) scale(1.0457 1)" x="0.51 17.75 33.75 48.11 65.20 71.75 87.44 102.81 116.17 130.51 137.81 154.26 169.81">unzulaessige </text><text class="lg" transform="translate(1937.84 1397.20) scale(1.1026 1)">Mehrfachantwort</text>
<text class="lg" transform="translate(1699.32 1450.30) scale(1.0761 1)" x="0.41 8.45 17.34 33.63 41.63">[-3] </text><text class="lg" transform="translate(1752.28 1450.30) scale(1.0918 1)" x="0.16 16.70 33.21 49.76 55.85 71.63 87.13 101.05 107.86 124.41 130.54 146.87 156.68">unplausibler </text><text class="lg" transform="translate(1931.57 1450.30) scale(1.0764 1)">Wert</text>
<text class="lg" transform="translate(2228.30 1397.20) scale(1.0780 1)" x="0.41 8.45 17.34 33.63 41.63">[-2] </text><text class="lg" transform="translate(2281.35 1397.20) scale(1.0941 1)" x="0.78 10.33 20.93 28.17 37.37 46.81 55.11">trifft </text><text class="lg" transform="translate(2349.89 1397.20) scale(1.0941 1)" x="0.16 16.75 22.57 36.45 53.60 61.91">nicht </text><text class="lg" transform="translate(2425.87 1397.20) scale(1.0341 1)" x="-0.64 13.95">zu</text>
<text class="lg" transform="translate(2228.31 1450.30) scale(1.0774 1)" x="0.41 8.45 17.34 33.63 41.63">[-1] </text><text class="lg" transform="translate(2281.33 1450.30) scale(1.0653 1)" x="0.04 14.31 30.47 37.63 53.86 69.23">keine </text><text class="lg" transform="translate(2363.21 1450.30) scale(1.0512 1)">Angabe</text>
<text class="lg" transform="translate(2539.63 1397.20) scale(1.0906 1)" x="0.12 16.62 33.21 40.68 49.78 56.59 72.36 87.44">gültige </text><text class="lg" transform="translate(2643.20 1397.20) scale(1.0685 1)">Observationen</text>
</svg>
</body></html>
